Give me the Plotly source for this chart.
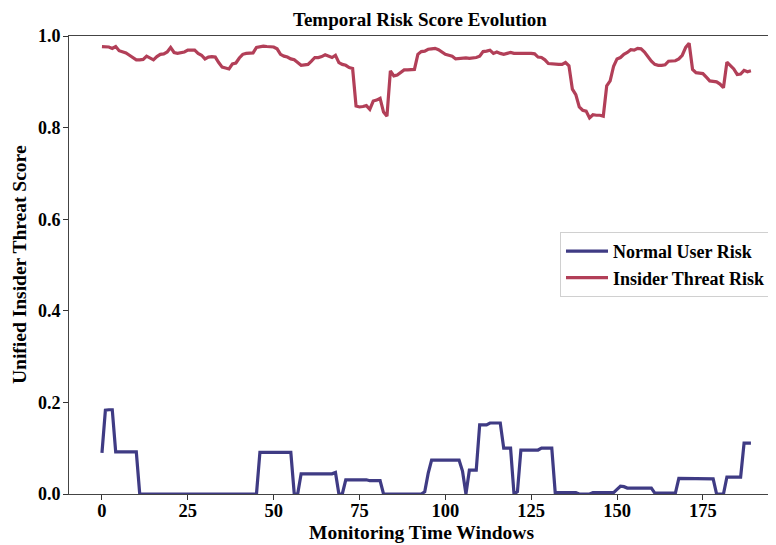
import plotly.graph_objects as go

# ---- data ----
insider_risk = [
    0.977, 0.977, 0.976, 0.973, 0.977, 0.968, 0.965, 0.963, 0.958, 0.952,
    0.948, 0.948, 0.949, 0.956, 0.952, 0.948, 0.955, 0.960, 0.961, 0.965,
    0.975, 0.964, 0.962, 0.963, 0.965, 0.969, 0.969, 0.969, 0.962, 0.958,
    0.950, 0.954, 0.955, 0.954, 0.942, 0.932, 0.930, 0.928, 0.939, 0.941,
    0.952, 0.960, 0.962, 0.962, 0.963, 0.975, 0.976, 0.978, 0.977, 0.977,
    0.976, 0.972, 0.960, 0.956, 0.954, 0.950, 0.948, 0.942, 0.936, 0.937,
    0.938, 0.945, 0.953, 0.953, 0.955, 0.959, 0.956, 0.953, 0.958, 0.942,
    0.938, 0.936, 0.931, 0.929, 0.847, 0.845, 0.846, 0.848, 0.840, 0.858,
    0.860, 0.864, 0.834, 0.825, 0.924, 0.913, 0.915, 0.920, 0.926, 0.926,
    0.926, 0.927, 0.960, 0.966, 0.967, 0.971, 0.972, 0.973, 0.970, 0.964,
    0.960, 0.958, 0.956, 0.950, 0.951, 0.951, 0.952, 0.951, 0.952, 0.953,
    0.956, 0.966, 0.967, 0.969, 0.962, 0.965, 0.962, 0.960, 0.962, 0.964,
    0.962, 0.962, 0.963, 0.962, 0.962, 0.962, 0.961, 0.954, 0.953, 0.948,
    0.940, 0.939, 0.938, 0.938, 0.938, 0.942, 0.935, 0.884, 0.872, 0.845,
    0.838, 0.836, 0.821, 0.828, 0.827, 0.827, 0.825, 0.891, 0.902, 0.934,
    0.950, 0.953, 0.960, 0.964, 0.970, 0.969, 0.973, 0.972, 0.965, 0.955,
    0.945, 0.938, 0.936, 0.936, 0.937, 0.945, 0.946, 0.946, 0.950, 0.958,
    0.975, 0.984, 0.927, 0.920, 0.919, 0.918, 0.910, 0.902, 0.901, 0.900,
    0.895, 0.887, 0.943, 0.936, 0.928, 0.916, 0.917, 0.925, 0.922, 0.924,
]

normal_risk = [
    0.090, 0.183, 0.184, 0.184, 0.092, 0.092, 0.092, 0.092, 0.092, 0.092,
    0.092, 0.000, 0.000, 0.000, 0.000, 0.000, 0.000, 0.000, 0.000, 0.000,
    0.000, 0.000, 0.000, 0.000, 0.000, 0.000, 0.000, 0.000, 0.000, 0.000,
    0.000, 0.000, 0.000, 0.000, 0.000, 0.000, 0.000, 0.000, 0.000, 0.000,
    0.000, 0.000, 0.000, 0.000, 0.000, 0.000, 0.091, 0.091, 0.091, 0.091,
    0.091, 0.091, 0.091, 0.091, 0.091, 0.091, 0.000, 0.000, 0.044, 0.044,
    0.044, 0.044, 0.044, 0.044, 0.044, 0.044, 0.044, 0.044, 0.047, 0.000,
    0.000, 0.031, 0.031, 0.031, 0.031, 0.031, 0.031, 0.031, 0.029, 0.029,
    0.029, 0.029, 0.000, 0.000, 0.000, 0.000, 0.000, 0.000, 0.000, 0.000,
    0.000, 0.000, 0.000, 0.000, 0.005, 0.045, 0.074, 0.074, 0.074, 0.074,
    0.074, 0.074, 0.074, 0.074, 0.074, 0.050, 0.000, 0.052, 0.052, 0.052,
    0.151, 0.151, 0.151, 0.155, 0.155, 0.155, 0.155, 0.100, 0.100, 0.100,
    0.000, 0.005, 0.096, 0.096, 0.096, 0.096, 0.096, 0.096, 0.100, 0.100,
    0.100, 0.100, 0.003, 0.003, 0.003, 0.003, 0.003, 0.003, 0.003, 0.000,
    0.000, 0.000, 0.000, 0.003, 0.003, 0.003, 0.003, 0.003, 0.003, 0.003,
    0.010, 0.017, 0.016, 0.013, 0.013, 0.013, 0.013, 0.013, 0.013, 0.013,
    0.013, 0.002, 0.002, 0.002, 0.002, 0.002, 0.002, 0.002, 0.034, 0.034,
    0.034, 0.034, 0.034, 0.034, 0.033, 0.033, 0.033, 0.033, 0.033, 0.000,
    0.000, 0.000, 0.037, 0.037, 0.037, 0.037, 0.037, 0.111, 0.111, 0.111,
]

time_windows = list(range(len(insider_risk)))

x_ticks = [0, 25, 50, 75, 100, 125, 150, 175]
y_ticks = [0.0, 0.2, 0.4, 0.6, 0.8, 1.0]

font_family = "Liberation Serif, Times New Roman, serif"

fig = go.Figure()
fig.add_trace(go.Scatter(
    x=time_windows, y=normal_risk, mode="lines", name="<b>Normal User Risk</b>",
    line=dict(color="#3F3B84", width=3.2),
))
fig.add_trace(go.Scatter(
    x=time_windows, y=insider_risk, mode="lines", name="<b>Insider Threat Risk</b>",
    line=dict(color="#B23F58", width=3.2),
))

# page body has an 8px margin: work in screen pixels, convert to figure pixels
OFF = 8
W, H = 776 - OFF, 545 - OFF
plot_left, plot_right, plot_top, plot_bottom = 69, 776, 36, 494
L = plot_left - OFF
T = plot_top - OFF
R = W - (plot_right - OFF)
B = H - (plot_bottom - OFF)
pw, ph = W - L - R, H - T - B


def px_x(x):
    return (x - plot_left) / pw


def px_y(y):
    return (plot_bottom - y) / ph


fig.update_layout(
    width=W, height=H,
    margin=dict(l=L, r=R, t=T, b=B, autoexpand=False),
    paper_bgcolor="white", plot_bgcolor="white",
    font=dict(family=font_family, color="black"),
    legend=dict(
        x=px_x(560), y=px_y(232), xanchor="left", yanchor="top",
        bgcolor="white", bordercolor="#D0D0D0", borderwidth=1,
        font=dict(size=18, family=font_family, color="black"),
        itemwidth=42, tracegroupgap=3,
    ),
    showlegend=True,
    annotations=[
        dict(text="<b>Temporal Risk Score Evolution</b>", xref="paper", yref="paper",
             x=px_x(420), y=px_y(20), xanchor="center", yanchor="middle",
             showarrow=False, font=dict(size=19, family=font_family, color="black")),
        dict(text="<b>Monitoring Time Windows</b>", xref="paper", yref="paper",
             x=px_x(421), y=px_y(532), xanchor="center", yanchor="middle",
             showarrow=False, font=dict(size=19.5, family=font_family, color="black")),
        dict(text="<b>Unified Insider Threat Score</b>", xref="paper", yref="paper",
             x=px_x(19), y=px_y(265), xanchor="center", yanchor="middle",
             textangle=-90,
             showarrow=False, font=dict(size=19.5, family=font_family, color="black")),
    ],
)

fig.update_xaxes(
    range=[-9.6, 196.3], automargin=False,
    tickmode="array", tickvals=x_ticks, ticktext=[f"<b>{t}</b>" for t in x_ticks],
    ticks="outside", ticklen=5, tickwidth=1, tickcolor="#333",
    tickfont=dict(size=18.5, family=font_family, color="black"),
    ticklabelstandoff=-5,
    showline=True, linecolor="#444", linewidth=1, mirror=True,
    showgrid=False, zeroline=False,
)
fig.update_yaxes(
    range=[0, 1], automargin=False,
    tickmode="array", tickvals=y_ticks, ticktext=[f"<b>{t:.1f}</b>" for t in y_ticks],
    ticks="outside", ticklen=5, tickwidth=1, tickcolor="#333",
    tickfont=dict(size=18, family=font_family, color="black"),
    ticklabelstandoff=-1,
    showline=True, linecolor="#444", linewidth=1,
    showgrid=False, zeroline=False,
)

fig.write_html("out.html")
